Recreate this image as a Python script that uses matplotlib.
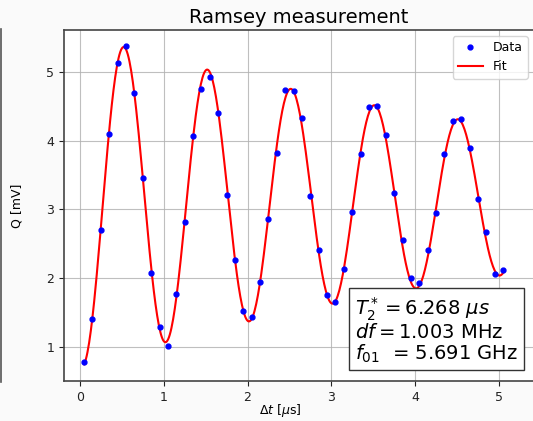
import numpy as np
import matplotlib
matplotlib.use("Agg")
from matplotlib import pyplot as plt
from matplotlib.lines import Line2D

delay = [0.05, 0.15, 0.25, 0.35, 0.45, 0.55, 0.65, 0.75, 0.85, 0.95,
         1.05, 1.15, 1.25, 1.35, 1.45, 1.55, 1.65, 1.75, 1.85, 1.95,
         2.05, 2.15, 2.25, 2.35, 2.45, 2.55, 2.65, 2.75, 2.85, 2.95,
         3.05, 3.15, 3.25, 3.35, 3.45, 3.55, 3.65, 3.75, 3.85, 3.95,
         4.05, 4.15, 4.25, 4.35, 4.45, 4.55, 4.65, 4.75, 4.85, 4.95, 5.05]
q_mv = [0.78, 1.41, 2.70, 4.10, 5.13, 5.38, 4.70, 3.46, 2.08, 1.29,
        1.02, 1.77, 2.82, 4.07, 4.75, 4.93, 4.41, 3.21, 2.27, 1.52,
        1.44, 1.95, 2.86, 3.82, 4.74, 4.72, 4.33, 3.20, 2.41, 1.75,
        1.65, 2.13, 2.97, 3.80, 4.49, 4.51, 4.08, 3.24, 2.55, 2.00,
        1.93, 2.41, 2.95, 3.80, 4.28, 4.31, 3.89, 3.15, 2.67, 2.06, 2.12]

# fit results shown in the box
t2_star = 6.268   # us
df = 1.003        # MHz
f01 = 5.691       # GHz

t = np.array(delay)
q = np.array(q_mv)

# damped cosine with T2* and df fixed, offset/amplitudes by least squares
def basis(x):
    env = np.exp(-x / t2_star)
    w = 2 * np.pi * df
    return np.column_stack([np.ones_like(x), env * np.cos(w * x), env * np.sin(w * x)])

coef, *_ = np.linalg.lstsq(basis(t), q, rcond=None)
t_fit = np.linspace(t.min(), t.max(), 500)
q_fit = basis(t_fit) @ coef

fig = plt.figure(figsize=(5.33, 4.21), dpi=100)
fig.patch.set_facecolor("#fafafa")
ax = fig.add_axes([64 / 533, 1 - 381 / 421, 1 - 64 / 533 + 0.002, (381 - 30) / 421])

ax.plot(t, q, "o", color="blue", ms=3.5, label="Data", zorder=3)
ax.plot(t_fit, q_fit, "-", color="red", lw=1.5, label="Fit", zorder=2)

ax.set_xlim(-0.19, 5.42)
ax.set_ylim(0.505, 5.61)
ax.set_xticks([0, 1, 2, 3, 4, 5])
ax.set_yticks([1, 2, 3, 4, 5])
ax.grid(True, color="#b0b0b0", lw=0.8, alpha=0.8)
ax.tick_params(labelsize=9, colors="#222222")
for s in ax.spines.values():
    s.set_color("#444444")
    s.set_linewidth(1.2)

ax.set_title("Ramsey measurement", fontsize=14, pad=5)
ax.set_xlabel(r"$\Delta t$ [$\mu$s]", fontsize=9)
ax.set_ylabel("Q [mV]", fontsize=9)
ax.xaxis.set_label_coords(0.46, -0.06)
ax.yaxis.set_label_coords(-0.087, 0.5)

ax.legend(loc="upper right", fontsize=9, framealpha=0.8)

txt = (r"$T_2^* = %.3f\ \mu s$" % t2_star + "\n"
       + r"$df = %.3f$ MHz" % df + "\n"
       + r"$f_{01}$  = %.3f GHz" % f01)
ax.text(0.966, 0.047, txt, transform=ax.transAxes, fontsize=14,
        ha="right", va="bottom", multialignment="left", linespacing=1.0,
        bbox=dict(boxstyle="square,pad=0.3", facecolor="white", edgecolor="#333333"))

# edge of the neighbouring panel at the far left
fig.add_artist(Line2D([1 / 533, 1 / 533], [1 - 382 / 421, 1 - 29 / 421],
                      transform=fig.transFigure, color="#555555", lw=1.2))

fig.savefig("out.png", dpi=100, facecolor=fig.get_facecolor())
